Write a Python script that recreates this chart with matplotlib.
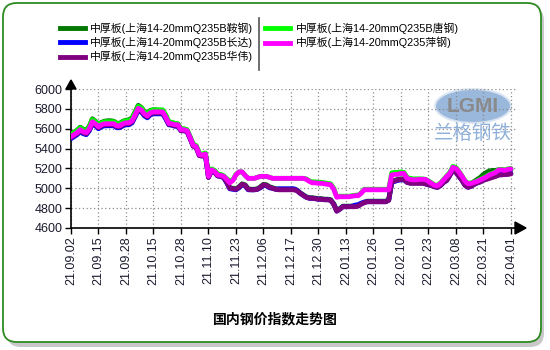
import matplotlib
matplotlib.use("Agg")
import matplotlib.pyplot as plt
from matplotlib.patches import FancyBboxPatch, Ellipse
from matplotlib.lines import Line2D

plt.rcParams['font.family'] = ['Liberation Sans', 'Noto Sans CJK SC', 'DejaVu Sans']

tick_labels = ["21.09.02", "21.09.15", "21.09.28", "21.10.15", "21.10.28", "21.11.10",
               "21.11.23", "21.12.06", "21.12.17", "21.12.30", "22.01.13", "22.01.26",
               "22.02.10", "22.02.23", "22.03.08", "22.03.21", "22.04.01"]
tick_step = 9

names = ["中厚板(上海14-20mmQ235B鞍钢)", "中厚板(上海14-20mmQ235B唐钢)",
         "中厚板(上海14-20mmQ235B长达)", "中厚板(上海14-20mmQ235B华伟)",
         "中厚板(上海14-20mmQ235萍钢)"]

angang = [5545, 5565, 5585, 5615, 5595, 5585, 5625, 5700, 5675, 5645,
          5665, 5675, 5680, 5680, 5675, 5655, 5655, 5675, 5685, 5690,
          5710, 5770, 5835, 5815, 5775, 5755, 5785, 5790, 5790, 5785,
          5780, 5735, 5665, 5660, 5650, 5645, 5595, 5595, 5585, 5515,
          5440, 5425, 5345, 5340, 5350, 5125, 5190, 5175, 5140, 5135,
          5115, 5065, 5005, 5000, 4995, 5015, 5045, 5035, 4995, 4990,
          4990, 4995, 5015, 5040, 5035, 5015, 5005, 4995, 4990, 4990,
          4990, 4990, 4990, 4990, 4980, 4955, 4935, 4915, 4905, 4905,
          4900, 4895, 4895, 4890, 4890, 4885, 4845, 4775, 4795, 4820,
          4820, 4820, 4820, 4820, 4825, 4845, 4860, 4870, 4870, 4870,
          4870, 4870, 4870, 4870, 4885, 5070, 5080, 5090, 5095, 5095,
          5065, 5055, 5055, 5055, 5055, 5055, 5050, 5040, 5035, 5020,
          5015, 5035, 5065, 5090, 5140, 5190, 5170, 5130, 5090, 5040,
          5030, 5045, 5070, 5090, 5110, 5140, 5160, 5175, 5180, 5180,
          5185, 5185, 5180, 5180, 5185]

tanggang = [5540, 5560, 5580, 5610, 5590, 5580, 5620, 5690, 5670, 5640,
            5660, 5670, 5670, 5670, 5670, 5650, 5650, 5670, 5680, 5680,
            5700, 5760, 5825, 5810, 5770, 5750, 5780, 5790, 5790, 5790,
            5790, 5740, 5670, 5665, 5655, 5650, 5600, 5600, 5590, 5520,
            5445, 5430, 5350, 5345, 5355, 5130, 5195, 5180, 5145, 5140,
            5125, 5095, 5075, 5085, 5140, 5165, 5165, 5130, 5100, 5100,
            5100, 5110, 5120, 5120, 5120, 5110, 5100, 5100, 5100, 5100,
            5100, 5100, 5100, 5100, 5100, 5100, 5100, 5095, 5075, 5065,
            5065, 5060, 5060, 5055, 5050, 5045, 5000, 4915, 4920, 4920,
            4920, 4920, 4925, 4930, 4930, 4955, 4990, 4990, 4990, 4990,
            4990, 4990, 4990, 4990, 4990, 5155, 5160, 5160, 5165, 5160,
            5110, 5100, 5095, 5095, 5095, 5095, 5090, 5075, 5055, 5035,
            5030, 5055, 5090, 5125, 5160, 5220, 5210, 5170, 5125, 5075,
            5050, 5055, 5065, 5075, 5090, 5105, 5120, 5140, 5150, 5165,
            5190, 5190, 5185, 5195, 5200]

changda = [5500, 5520, 5540, 5570, 5550, 5540, 5580, 5650, 5630, 5600,
           5620, 5630, 5630, 5630, 5630, 5610, 5610, 5630, 5640, 5640,
           5660, 5720, 5785, 5770, 5730, 5710, 5740, 5750, 5750, 5750,
           5750, 5700, 5640, 5635, 5625, 5625, 5580, 5580, 5570, 5500,
           5425, 5410, 5330, 5325, 5335, 5110, 5175, 5160, 5125, 5120,
           5105, 5055, 4995, 4990, 4985, 5005, 5035, 5025, 4985, 4985,
           4985, 4990, 5005, 5030, 5025, 5005, 5000, 4990, 4995, 4995,
           4995, 4995, 4995, 4995, 4980, 4950, 4930, 4910, 4900, 4900,
           4895, 4890, 4890, 4885, 4885, 4880, 4840, 4770, 4790, 4815,
           4815, 4815, 4820, 4830, 4835, 4850, 4860, 4865, 4865, 4865,
           4865, 4865, 4865, 4865, 4880, 5060, 5070, 5080, 5085, 5085,
           5060, 5055, 5055, 5055, 5055, 5055, 5045, 5035, 5030, 5015,
           5010, 5030, 5060, 5080, 5130, 5180, 5160, 5120, 5080, 5030,
           5010, 5020, 5040, 5055, 5065, 5085, 5095, 5105, 5115, 5125,
           5135, 5140, 5140, 5145, 5150]

huawei = [5510, 5530, 5550, 5580, 5560, 5550, 5590, 5660, 5640, 5610,
          5630, 5640, 5640, 5640, 5640, 5620, 5620, 5640, 5650, 5650,
          5670, 5730, 5795, 5780, 5740, 5720, 5750, 5760, 5760, 5760,
          5760, 5710, 5645, 5640, 5630, 5630, 5580, 5580, 5570, 5500,
          5425, 5410, 5330, 5325, 5335, 5110, 5175, 5160, 5125, 5120,
          5110, 5060, 5000, 4995, 4990, 5010, 5040, 5030, 4990, 4985,
          4985, 4990, 5010, 5035, 5030, 5010, 5000, 4990, 4985, 4985,
          4985, 4985, 4985, 4985, 4975, 4950, 4930, 4910, 4900, 4900,
          4895, 4890, 4890, 4885, 4885, 4880, 4840, 4770, 4790, 4815,
          4815, 4815, 4815, 4815, 4820, 4840, 4855, 4865, 4865, 4865,
          4865, 4865, 4865, 4865, 4880, 5065, 5075, 5085, 5090, 5090,
          5060, 5050, 5050, 5050, 5050, 5050, 5045, 5035, 5030, 5015,
          5010, 5030, 5060, 5080, 5130, 5180, 5160, 5120, 5080, 5030,
          5010, 5020, 5040, 5055, 5065, 5080, 5090, 5100, 5110, 5120,
          5135, 5135, 5140, 5140, 5145]

pinggang = [5520, 5540, 5560, 5590, 5570, 5560, 5600, 5670, 5650, 5620,
            5640, 5650, 5650, 5650, 5650, 5630, 5630, 5650, 5660, 5660,
            5680, 5740, 5805, 5790, 5750, 5730, 5760, 5770, 5770, 5770,
            5770, 5720, 5655, 5650, 5640, 5640, 5590, 5590, 5580, 5510,
            5435, 5420, 5340, 5335, 5345, 5120, 5185, 5170, 5135, 5130,
            5120, 5090, 5055, 5080, 5135, 5165, 5165, 5130, 5100, 5100,
            5100, 5110, 5120, 5120, 5120, 5110, 5100, 5100, 5100, 5100,
            5100, 5100, 5100, 5100, 5100, 5100, 5100, 5090, 5070, 5055,
            5055, 5050, 5050, 5045, 5040, 5035, 4990, 4910, 4915, 4915,
            4915, 4915, 4920, 4925, 4925, 4950, 4985, 4985, 4985, 4985,
            4985, 4985, 4985, 4985, 4985, 5135, 5140, 5140, 5150, 5150,
            5100, 5090, 5085, 5085, 5090, 5090, 5090, 5070, 5050, 5030,
            5025, 5050, 5085, 5120, 5150, 5210, 5200, 5165, 5120, 5070,
            5045, 5050, 5060, 5070, 5085, 5100, 5115, 5135, 5145, 5160,
            5185, 5185, 5180, 5190, 5195]

colors = {"angang": "#007800", "tanggang": "#00ff00", "changda": "#0000ff",
          "huawei": "#800080", "pinggang": "#ff00ff"}

W, H = 550, 350
fig = plt.figure(figsize=(5.5, 3.5), dpi=100)
fig.patch.set_facecolor("white")

# frame with shadow
shadow = FancyBboxPatch((7 / W, 1 - 347 / H), 537 / W, 340 / H,
                        boxstyle="round,pad=0,rounding_size=0.025",
                        transform=fig.transFigure, facecolor="#c8c8c8",
                        edgecolor="none", zorder=0, mutation_aspect=W / H)
fig.patches.append(shadow)
frame = FancyBboxPatch((3 / W, 1 - 342 / H), 538 / W, 339 / H,
                       boxstyle="round,pad=0,rounding_size=0.025",
                       transform=fig.transFigure, facecolor="white",
                       edgecolor="#2e8a22", linewidth=1.3, zorder=1,
                       mutation_aspect=W / H)
fig.patches.append(frame)

x_idx = list(range(len(pinggang)))
ax_left, ax_right = 71, 517
ax_top, ax_bottom = 89, 228
ax = fig.add_axes([ax_left / W, 1 - ax_bottom / H, (ax_right - ax_left) / W, (ax_bottom - ax_top) / H])
ax.set_facecolor("none")
ax.set_zorder(3)

lw = 3.5
series = [("angang", angang, names[0]), ("tanggang", tanggang, names[1]),
          ("changda", changda, names[2]), ("huawei", huawei, names[3]),
          ("pinggang", pinggang, names[4])]
lines = {}
for key, vals, nm in series:
    ln, = ax.plot(x_idx, vals, color=colors[key], linewidth=lw, solid_joinstyle="round",
                  solid_capstyle="round", label=nm, zorder=3)
    lines[key] = ln

ax.set_xlim(0, 146)
ax.set_ylim(4600, 6000)
ticks = [i * tick_step for i in range(len(tick_labels))]
ax.set_xticks(ticks)
ax.set_xticklabels(tick_labels, rotation=90, fontsize=9, color="#1a1a2e")
ax.set_yticks(range(4600, 6001, 200))
ax.set_yticklabels([str(v) for v in range(4600, 6001, 200)], fontsize=9, color="#1a1a2e")
ax.tick_params(axis="both", length=4, width=1, color="black", pad=2)
ax.grid(True, linestyle=(0, (1, 2)), color="#8c8c8c", linewidth=0.9, zorder=0)
for s in ["top", "right"]:
    ax.spines[s].set_visible(False)
ax.spines["left"].set_linewidth(1.2)
ax.spines["bottom"].set_linewidth(1.2)

# axis arrows
fig.add_artist(plt.Polygon([[(ax_right - 2) / W, 1 - (ax_bottom - 6) / H],
                            [(ax_right + 9) / W, 1 - ax_bottom / H],
                            [(ax_right - 2) / W, 1 - (ax_bottom + 6) / H]],
                           closed=True, transform=fig.transFigure, color="black", zorder=5))
fig.add_artist(plt.Polygon([[(ax_left - 5) / W, 1 - 89 / H],
                            [ax_left / W, 1 - 80 / H],
                            [(ax_left + 5) / W, 1 - 89 / H]],
                           closed=True, transform=fig.transFigure, color="black", zorder=5))

# legend
order = ["angang", "changda", "huawei", "tanggang", "pinggang"]
handles = [lines[k] for k in order]
labels = [lines[k].get_label() for k in order]
leg_handles = [Line2D([0], [0], color=h.get_color(), linewidth=3.5) for h in handles]
leg = fig.legend(leg_handles, labels, ncol=2, loc="upper left",
                 bbox_to_anchor=(60 / W, 1 - 22 / H), frameon=False,
                 fontsize=7.8, handlelength=2.3, handletextpad=0.5,
                 columnspacing=1.1, labelspacing=0.3, borderaxespad=0,
                 borderpad=0)
fig.add_artist(Line2D([259 / W, 259 / W], [1 - 18 / H, 1 - 70 / H],
                      transform=fig.transFigure, color="#555555", linewidth=1.2))

# watermark logo
logo = Ellipse((473 / W, 1 - 106 / H), 76 / W, 34 / H, transform=fig.transFigure,
               facecolor="#8fb0d9", edgecolor="#dbe6f3", linewidth=1.5, alpha=0.9, zorder=2)
fig.add_artist(logo)
fig.text(473 / W, 1 - 106 / H, "LGMI", fontsize=15, fontweight="bold", color="#8a8a8a",
         ha="center", va="center", zorder=3)
fig.text(473 / W, 1 - 133 / H, "兰格钢铁", fontsize=14, color="#8fb0d9",
         ha="center", va="center", family=["Noto Sans CJK SC", "DejaVu Sans"], zorder=3)

fig.text(275 / W, 1 - 319 / H, "国内钢价指数走势图", fontsize=10, fontweight="bold",
         ha="center", va="center", family=["Noto Sans CJK SC", "DejaVu Sans"])

fig.savefig("out.png", dpi=100)
